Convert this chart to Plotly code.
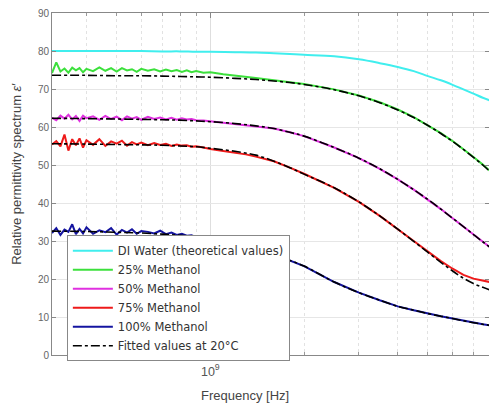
import plotly.graph_objects as go

# ---------------- data (GHz, relative permittivity) ----------------
FREQ_FIT_GHZ = [0.31, 0.4, 0.5, 0.6, 0.7, 0.8, 0.9, 1.0, 1.2, 1.4, 1.6, 1.8, 2.0,
                2.5, 3.0, 3.5, 4.0, 4.5, 5.0, 5.5, 6.0, 6.5, 7.0, 7.5, 7.9]

FREQ_MEAS_GHZ = [0.31, 0.32, 0.33, 0.34, 0.35, 0.36, 0.37, 0.38, 0.39, 0.40,
                 0.42, 0.44, 0.46, 0.48, 0.50, 0.52, 0.54, 0.56, 0.58, 0.60,
                 0.63, 0.66, 0.69, 0.72, 0.75, 0.78, 0.81, 0.84, 0.87, 0.90,
                 0.95, 1.0, 1.1, 1.2, 1.3, 1.4,
                 1.6, 1.8, 2.0, 2.5, 3.0, 3.5, 4.0, 4.5, 5.0, 5.5, 6.0, 6.5, 7.0, 7.5, 7.9]

DI_WATER = [80.0, 80.0, 80.0, 80.0, 79.9, 79.9, 79.8, 79.8, 79.7, 79.6, 79.4, 79.2, 79.0,
            78.6, 77.8, 76.8, 75.8, 74.7, 73.4, 72.3, 71.1, 69.9, 68.8, 67.7, 67.0]

MEAS_25 = [74.2, 77.0, 74.6, 75.4, 74.3, 75.6, 74.9, 75.5, 74.4, 75.3,
           74.7, 75.7, 74.8, 75.5, 74.6, 75.5, 74.9, 75.2, 74.5, 75.3,
           74.8, 75.2, 74.6, 75.1, 74.7, 75.0, 74.5, 74.9, 74.4, 74.7,
           74.3, 74.4, 73.9, 73.6, 73.2, 72.9,
           72.3, 71.8, 71.3, 69.9, 68.3, 66.5, 64.6, 62.6, 60.5, 58.4, 56.3, 54.2, 52.1, 50.1, 48.5]
MEAS_50 = [62.4, 61.8, 63.0, 62.2, 63.2, 62.0, 62.9, 61.6, 63.0, 62.3,
           62.8, 61.9, 62.9, 62.1, 62.7, 61.8, 62.8, 62.2, 62.6, 61.9,
           62.7, 62.1, 62.5, 62.0, 62.4, 61.9, 62.3, 62.0, 62.1, 61.8,
           61.7, 61.5, 61.2, 60.9, 60.6, 60.3,
           59.6, 58.6, 57.6, 54.6, 51.8, 49.0, 46.2, 43.5, 40.9, 38.4, 36.0, 33.8, 31.7, 29.8, 28.4]
MEAS_75 = [55.4, 56.3, 54.9, 58.0, 53.8, 56.8, 55.2, 57.0, 54.6, 56.5,
           55.3, 56.8, 55.0, 56.2, 55.6, 56.4, 55.1, 56.0, 55.4, 55.9,
           55.2, 55.8, 55.3, 55.6, 55.0, 55.4, 55.1, 55.2, 54.8, 54.9,
           54.6, 54.2, 53.7, 53.3, 52.8, 52.2,
           51.0, 49.3, 47.7, 44.0, 40.3, 36.6, 33.2, 30.0, 27.2, 24.7, 22.7, 21.1, 20.1, 19.5, 19.2]
MEAS_100 = [32.1, 33.4, 31.6, 33.0, 32.4, 34.4, 31.8, 33.2, 32.0, 33.6,
            31.9, 32.8, 32.3, 33.4, 31.7, 32.9, 32.2, 33.1, 31.9, 32.6,
            32.4, 32.0, 32.7, 31.8, 32.2, 31.6, 31.9, 31.4, 31.5, 31.0,
            30.8, 30.5, 29.8, 29.2, 28.5, 27.9,
            26.5, 24.9, 23.4, 19.2, 16.4, 14.4, 12.8, 11.8, 10.9, 10.2, 9.6, 9.0, 8.5, 8.1, 7.8]

FIT_25 = [73.6, 73.6, 73.5, 73.5, 73.4, 73.3, 73.2, 73.1, 72.8, 72.5, 72.1, 71.7, 71.2,
          69.8, 68.2, 66.4, 64.5, 62.5, 60.4, 58.3, 56.2, 54.1, 52.0, 50.0, 48.3]
FIT_50 = [62.3, 62.2, 62.1, 62.0, 61.9, 61.8, 61.6, 61.4, 60.9, 60.3, 59.6, 58.6, 57.6,
          54.6, 51.8, 49.0, 46.2, 43.5, 40.9, 38.4, 36.0, 33.8, 31.7, 29.8, 28.4]
FIT_75 = [55.6, 55.5, 55.4, 55.3, 55.2, 55.0, 54.8, 54.4, 53.6, 52.6, 51.0, 49.3, 47.6,
          44.0, 40.3, 36.6, 33.1, 29.9, 27.0, 24.4, 22.1, 20.2, 18.8, 17.8, 17.1]
FIT_100 = [32.6, 32.5, 32.3, 32.1, 31.8, 31.5, 31.1, 30.6, 29.4, 28.0, 26.5, 24.9, 23.4,
           19.2, 16.4, 14.4, 12.8, 11.8, 10.9, 10.2, 9.6, 9.0, 8.5, 8.1, 7.8]

Y_TICKS = [0, 10, 20, 30, 40, 50, 60, 70, 80, 90]

LABELS = ["DI Water (theoretical values)", "25% Methanol", "50% Methanol",
          "75% Methanol", "100% Methanol", "Fitted values at 20°C"]
COLORS = ["#40eeee", "#3ce03c", "#e030e0", "#ee1a1a", "#1414a0"]

# ---------------- figure ----------------
f_fit = [v * 1e9 for v in FREQ_FIT_GHZ]
f_meas = [v * 1e9 for v in FREQ_MEAS_GHZ]

fig = go.Figure()
fig.add_trace(go.Scatter(x=f_fit, y=DI_WATER, mode="lines", name=LABELS[0],
                         line=dict(color=COLORS[0], width=2, shape="spline")))
for lab, col, ys in zip(LABELS[1:5], COLORS[1:5], [MEAS_25, MEAS_50, MEAS_75, MEAS_100]):
    fig.add_trace(go.Scatter(x=f_meas, y=ys, mode="lines", name=lab,
                             line=dict(color=col, width=2)))
for i, ys in enumerate([FIT_25, FIT_50, FIT_75, FIT_100]):
    fig.add_trace(go.Scatter(x=f_fit, y=ys, mode="lines", name=LABELS[5],
                             legendgroup="fit", showlegend=(i == 0),
                             line=dict(color="black", width=1.6, dash="dashdot", shape="spline")))

fig.update_layout(
    width=489, height=406,
    margin=dict(l=52, r=0, t=13, b=51),
    paper_bgcolor="white", plot_bgcolor="white",
    font=dict(family="Liberation Sans, Arial, sans-serif", color="#555555", size=10),
    showlegend=True,
    legend=dict(x=0.034, y=0.35, xanchor="left", yanchor="top",
                bgcolor="white", bordercolor="#888888", borderwidth=1,
                font=dict(family="DejaVu Sans, sans-serif", size=11.5, color="#333333"),
                tracegroupgap=0, itemwidth=40),
    xaxis=dict(type="log", range=[8.4914, 9.895],
               tickmode="linear", tick0=0, dtick=1,
               exponentformat="power", showexponent="all",
               ticks="inside", ticklen=5, tickcolor="#888888", ticklabelstandoff=5,
               minor=dict(ticks="inside", ticklen=3, tickcolor="#999999",
                          showgrid=True, gridcolor="#e2e2e2", griddash="dot"),
               showgrid=True, gridcolor="#dedede", gridwidth=1,
               showline=True, linecolor="#888888", linewidth=1, mirror="ticks",
               zeroline=False, tickfont=dict(size=10, color="#555555")),
    yaxis=dict(range=[0, 90], tickvals=Y_TICKS,
               ticks="inside", ticklen=4, tickcolor="#888888",
               showgrid=True, gridcolor="#e6e6e6", gridwidth=1,
               showline=True, linecolor="#888888", linewidth=1, mirror="ticks",
               zeroline=False, tickfont=dict(size=10, color="#666666")),
    annotations=[
        dict(text="Frequency [Hz]", xref="paper", yref="paper", x=0.442, y=-0.09,
             xanchor="center", yanchor="top", showarrow=False,
             font=dict(size=13, color="#444444")),
        dict(text="Relative permittivity spectrum <i>ε</i>′", xref="paper", yref="paper",
             x=-0.08, y=0.53, xanchor="center", yanchor="middle", textangle=-90,
             showarrow=False, font=dict(size=13, color="#444444")),
    ],
)

fig.write_html("out.html", config={"displayModeBar": False},
               post_script="document.body.style.margin='0';")
